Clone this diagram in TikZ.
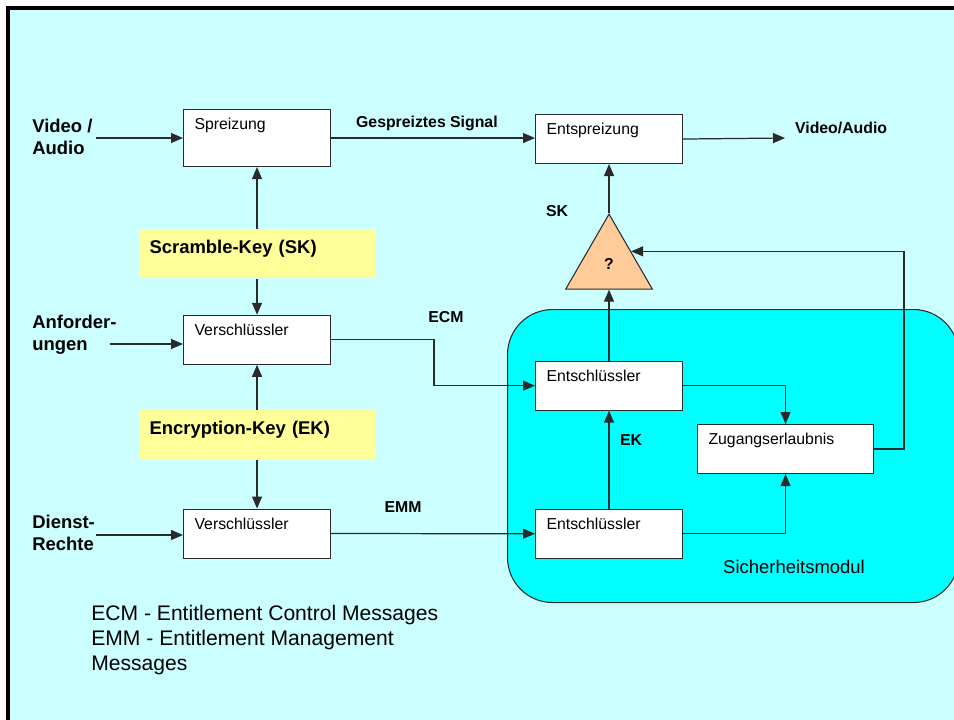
\documentclass[tikz,border=0pt]{standalone}
\usepackage{fontspec}
\setmainfont{Liberation Sans}
\usepackage{tikz}
\usetikzlibrary{arrows.meta,positioning,calc,shapes.geometric}
\definecolor{paperbg}{HTML}{CCFFFF}
\definecolor{modulecyan}{HTML}{00FFFF}
\definecolor{keyyellow}{HTML}{FFFF99}
\definecolor{gatepeach}{HTML}{FFCC99}
\definecolor{linegray}{HTML}{2A2A2A}

\begin{document}
\begin{tikzpicture}[
  x=0.2mm, y=-0.2mm,
  font=\fontsize{9}{11}\selectfont,
  box/.style={
    draw=linegray,
    fill=white,
    line width=0.6pt,
    anchor=north west,
    text width=25mm,
    align=left,
    inner xsep=2.2mm,
    inner ysep=0pt,
    text height=4mm,
    text depth=5.8mm
  },
  keybox/.style={fill=keyyellow,text width=43mm,align=left,inner xsep=2mm,inner ysep=0pt,
    text height=4.8mm,text depth=5mm,font=\fontsize{10.5}{12.5}\selectfont\bfseries},
  gate/.style={regular polygon,regular polygon sides=3,draw=linegray,fill=gatepeach,
    minimum size=20mm,inner sep=0pt,line width=0.6pt,font=\fontsize{9}{11}\selectfont\bfseries},
  module/.style={draw=linegray,fill=modulecyan,rounded corners=9mm,line width=0.6pt,
    anchor=north west,minimum width=90.2mm,minimum height=58.6mm},
  inlab/.style={anchor=north west,align=left,inner sep=0pt,font=\fontsize{10.5}{12.5}\selectfont\bfseries},
  elab/.style={inner sep=1pt,font=\fontsize{9}{11}\selectfont\bfseries},
  flow/.style={-{Triangle[length=2.4mm,width=2mm]},draw=linegray,line width=0.7pt}
]
  \useasboundingbox (0,0) rectangle (954,720);
  \clip (0,0) rectangle (954,720);
  % sheet
  \fill[paperbg] (8,8) rectangle (954,720);
  \draw[black,line width=0.7mm] (8,720) -- (8,8) -- (954,8);

  % security module
  \node[module] (sim) at (507,309) {};
  \node[font=\fontsize{10.5}{12.5}\selectfont] (simlab) at (794,567) {Sicherheitsmodul};

  % sender side
  \node[box,text depth=7.4mm] (spr) at (183,109) {Spreizung};
  \node[keybox,below=12.4mm of spr] (sk) {Scramble-Key (SK)};
  \node[box,below=7.2mm of sk] (ver1) {Verschlüssler};
  \node[keybox,below=9mm of ver1] (ek) {Encryption-Key (EK)};
  \node[box,below=9.8mm of ek] (ver2) {Verschlüssler};

  % receiver side
  \node[box] (entsp) at (535,114) {Entspreizung};
  \node[gate,below=9.8mm of entsp] (tri) {?};
  \node[box,below=14.2mm of tri] (ent1) {Entschlüssler};
  \node[box,below=19.6mm of ent1] (ent2) {Entschlüssler};
  \node[box,text width=30.8mm] (zug) at (697,424) {Zugangserlaubnis};

  % inputs
  \node[inlab] (vid) at (32,119) {Video /\\Audio};
  \node[inlab] (anf) at (32,315) {Anforder-\\ungen};
  \node[inlab] (dien) at (32,515) {Dienst-\\Rechte};
  \coordinate (vidin) at (96,138);
  \coordinate (anfin) at (110,344);
  \coordinate (dienin) at (96,535);
  \coordinate (vidout) at (785,138);
  \coordinate (trimid) at ($(tri.corner 1)!0.5!(tri.corner 3)$);

  \node[elab,anchor=west] (outlab) at (793,128) {Video/Audio};
  \node[elab] (ecmlab) at (446,317) {ECM};
  \node[elab] (emmlab) at (403,507) {EMM};
  \node[elab] (sklab) at (557,211) {SK};
  \node[elab] (eklab) at (631,440) {EK};

  \draw[flow] (vidin) -- (vidin -| spr.west);
  \draw[flow] (anfin) -- (anfin -| ver1.west);
  \draw[flow] (dienin) -- (dienin -| ver2.west);
  \draw[flow] (spr.east) -- node[elab,above=2.8pt,pos=0.47]{Gespreiztes Signal} (spr.east -| entsp.west);
  \draw[flow] (entsp.east) -- (vidout);
  \draw[flow] (sk.north) -- (spr.south);
  \draw[flow] (sk.south) -- (ver1.north);
  \draw[flow] (ek.north) -- (ver1.south);
  \draw[flow] (ek.south) -- (ver2.north);
  \draw[flow] (ver1.east) -- ++(103,0) |- (ent1.west);
  \draw[flow] (ver2.east) -- (ent2.west);
  \draw[flow] (ent2.north) -- (ent1.south);
  \draw[flow] (ent1.north) -- (tri.south);
  \draw[flow] (tri.north) -- (entsp.south);
  \draw[flow] (ent1.east) -| (zug.north);
  \draw[flow] (ent2.east) -| (zug.south);
  \draw[flow] (zug.east) -- ++(30,0) |- (trimid);

  % legend
  \node[anchor=north west,align=left,inner sep=0pt,font=\fontsize{12}{14.2}\selectfont] (legend) at (91,605)
    {ECM - Entitlement Control Messages\\EMM - Entitlement Management\\Messages};
\end{tikzpicture}
\end{document}
